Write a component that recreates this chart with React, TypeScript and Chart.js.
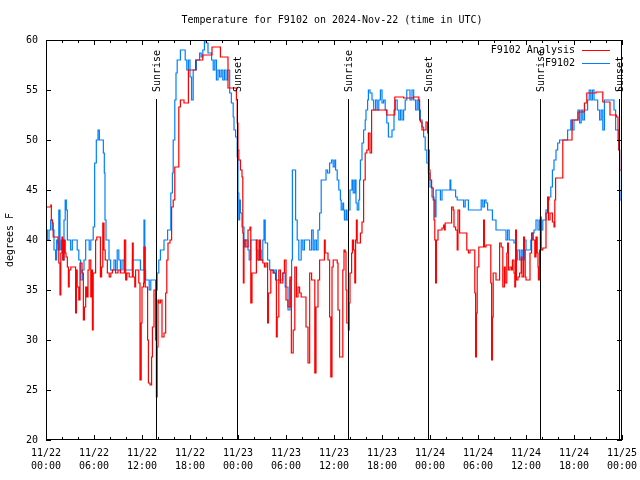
import React, { useEffect, useRef } from 'react';
import { Chart, registerables } from 'chart.js';

Chart.register(...registerables);

const FONT = '"DejaVu Sans Mono", "Liberation Mono", monospace';

const chartTitle = 'Temperature for F9102 on 2024-Nov-22 (time in UTC)';
const yAxisTitle = 'degrees F';
const seriesNames = ['F9102 Analysis', 'F9102'];
const seriesColors = ['#ff0000', '#0080ff'];

// x ticks every 6 hours from 11/22 00:00 (hours since start)
const tickDays = ['11/22', '11/22', '11/22', '11/22', '11/23', '11/23', '11/23', '11/23', '11/24', '11/24', '11/24', '11/24', '11/25'];
const tickTimes = ['00:00', '06:00', '12:00', '18:00', '00:00', '06:00', '12:00', '18:00', '00:00', '06:00', '12:00', '18:00', '00:00'];

const sunHours = [13.8, 23.83, 37.75, 47.8, 61.8, 71.67];
const sunLabels = ['Sunrise', 'Sunset', 'Sunrise', 'Sunset', 'Sunrise', 'Sunset'];

// F9102 (station) observations
const blueHours = [
  0.0, 0.17, 0.375, 0.58, 0.79, 1.0, 1.2, 1.33, 1.5, 1.6, 1.75, 1.92, 2.1, 2.25, 2.4, 2.54, 2.67, 3.08, 3.29, 3.9,
  4.1, 4.33, 4.54, 4.75, 4.96, 5.4, 5.6, 5.9, 6.08, 6.29, 6.5, 6.67, 7.17, 7.29, 7.375, 7.5, 7.875, 8.08, 8.5, 8.7,
  8.9, 9.1, 9.3, 9.5, 9.75, 10.8, 11.8, 12.25, 12.35, 12.46, 12.9, 13.1, 13.7, 13.9, 14.1, 14.3, 14.75, 15.2, 15.6, 15.8,
  15.9, 16.1, 16.25, 16.4, 16.8, 17.4, 17.6, 17.8, 18.0, 18.2, 18.4, 18.8, 19.2, 19.4, 19.6, 19.8, 20.0, 20.25, 20.7, 20.9,
  21.1, 21.3, 21.5, 21.7, 21.9, 22.1, 22.3, 22.5, 22.7, 22.96, 23.17, 23.4, 23.5, 23.7, 23.9, 24.0, 24.1, 24.2, 24.3, 24.5,
  24.75, 24.9, 25.25, 25.4, 25.6, 26.3, 26.5, 26.7, 26.9, 27.1, 27.25, 27.4, 27.7, 27.96, 28.4, 28.6, 28.8, 29.6, 29.9, 30.25,
  30.5, 30.7, 30.8, 31.0, 31.2, 31.4, 31.6, 31.9, 32.1, 32.3, 32.96, 33.2, 33.4, 33.6, 33.8, 34.0, 34.2, 34.4, 35.0, 35.2,
  35.45, 35.7, 35.9, 36.1, 36.2, 36.4, 36.6, 36.8, 36.9, 37.1, 37.2, 37.3, 37.5, 37.6, 37.8, 38.0, 38.25, 38.4, 38.6, 38.75,
  38.9, 39.1, 39.2, 39.3, 39.5, 39.7, 39.9, 40.0, 40.2, 40.3, 40.5, 40.75, 40.96, 41.2, 41.4, 41.6, 41.8, 42.0, 42.2, 42.4,
  42.6, 42.8, 43.25, 43.5, 43.67, 43.9, 44.1, 44.3, 44.5, 44.7, 44.9, 45.1, 45.5, 45.75, 45.96, 46.2, 46.4, 46.6, 46.8, 47.0,
  47.2, 47.4, 47.6, 47.8, 48.0, 48.25, 48.5, 48.6, 48.75, 49.3, 49.5, 50.5, 50.6, 51.2, 51.4, 52.2, 52.4, 52.8, 54.4, 54.6,
  54.8, 55.0, 55.2, 55.8, 56.25, 57.5, 57.7, 57.9, 58.5, 58.75, 58.96, 59.2, 59.4, 59.6, 59.8, 60.0, 60.6, 60.8, 61.0, 61.25,
  61.5, 61.7, 61.9, 62.1, 62.5, 62.7, 62.9, 63.1, 63.3, 63.5, 63.75, 63.96, 64.2, 65.2, 65.6, 65.8, 66.0, 66.5, 66.7, 66.9,
  67.1, 67.3, 67.7, 67.9, 68.1, 68.3, 68.5, 68.96, 69.2, 69.4, 69.6, 69.8, 71.0, 71.2, 71.5, 71.6, 71.7, 71.75, 72.0
];
const blueTemps = [
  41, 40, 41, 42, 41, 39, 38, 40, 39, 43, 39, 40, 38, 42, 44, 43, 40, 39, 40, 39,
  38, 36, 37, 38, 40, 39, 40, 41.3, 47.7, 50, 51, 50, 48.7, 46.7, 42, 40, 38, 37, 38, 37,
  39, 38, 37, 38, 37, 38, 37, 42, 37, 36, 35, 36, 35, 36.7, 38, 39, 40, 41, 44.7, 46.7,
  50, 54, 56.7, 58, 59, 58, 57, 58, 56.3, 54, 57, 58, 58.7, 58.3, 59, 60, 59.7, 58.7, 58, 57,
  58, 56, 57, 56.3, 57, 56, 57, 56, 57, 54.7, 53.7, 52.3, 51, 50.3, 48.3, 44.7, 42, 44, 42.7, 41.3,
  39.3, 40, 39, 38, 40, 39, 38, 39, 38, 40, 42, 39.7, 38, 37, 36.7, 37, 36, 36.7, 35.3, 33,
  36, 38, 47, 47, 42, 40, 38, 40, 39, 40, 39, 41, 39, 40, 39, 41, 42.7, 46, 47, 46.7,
  47.7, 48, 47.3, 48, 47, 46, 45, 44, 43, 43.7, 43, 42, 43, 42, 43, 45, 46, 44.7, 46, 43.7,
  43, 44, 46, 48, 49.7, 51, 52, 53, 54, 55, 54.7, 54, 53, 54, 53, 54, 55, 53.7, 54, 53,
  51.7, 50.3, 51, 53, 54, 53, 52, 53, 52, 53, 54, 55, 54, 55, 54, 53, 54, 53, 52, 51.3,
  50.3, 49, 47.7, 46.7, 45.3, 44.3, 44, 42.3, 45, 44, 45, 46, 45, 44.3, 44, 43.3, 44, 43, 44, 43.3,
  44, 43.7, 43, 42, 41, 40, 41, 40, 39.7, 38, 39, 38, 39, 38, 40, 39, 40, 40.7, 41, 42,
  41, 42, 41, 42, 43, 44, 44.3, 45.3, 47, 48, 49, 49.7, 50, 51, 52, 51, 52, 53, 51.7, 53,
  52, 53, 54, 55, 54, 55, 54, 53, 52, 53, 51, 54, 53, 51, 50, 49, 45, 44, 44.5
];

// F9102 Analysis
const redHours = [
  0, 0.6, 0.67, 0.8, 0.9, 1.5, 1.6, 1.75, 1.85, 2.0, 2.1, 2.25, 2.4, 2.5, 2.67, 2.8, 2.9, 3.1, 3.7, 3.8,
  3.9, 4.1, 4.25, 4.5, 4.67, 4.8, 4.96, 5.1, 5.25, 5.4, 5.6, 5.7, 5.8, 5.9, 6.2, 6.35, 6.8, 6.95, 7.1, 7.25,
  7.4, 7.67, 7.9, 8.1, 8.3, 8.7, 9.0, 9.3, 9.8, 9.96, 10.1, 10.4, 10.8, 10.9, 11.1, 11.2, 11.6, 11.75, 11.9, 12.0,
  12.2, 12.25, 12.4, 12.7, 12.8, 13.0, 13.2, 13.3, 13.5, 13.7, 13.8, 13.9, 14.0, 14.1, 14.3, 14.5, 14.75, 14.96, 15.1, 15.25,
  15.5, 15.7, 15.9, 16.1, 16.6, 16.8, 17.25, 17.8, 18.7, 19.6, 20.75, 21.8, 22.75, 23.8, 23.9, 24.0, 24.1, 24.3, 24.5, 24.6,
  24.67, 24.75, 25.0, 25.25, 25.5, 25.6, 25.75, 26.3, 26.5, 26.7, 26.8, 27.1, 27.3, 27.5, 27.7, 27.8, 28.1, 28.4, 28.7, 28.8,
  28.9, 29.1, 29.3, 29.6, 29.8, 30.0, 30.25, 30.5, 30.67, 30.9, 31.1, 31.3, 31.5, 31.7, 31.9, 32.5, 32.75, 32.96, 33.2, 33.6,
  33.75, 34.0, 34.2, 34.8, 34.9, 35.25, 35.45, 35.6, 35.75, 35.9, 36.4, 36.5, 36.7, 37.0, 37.1, 37.25, 37.4, 37.5, 37.6, 37.8,
  37.9, 38.0, 38.2, 38.3, 38.45, 38.6, 38.7, 38.8, 38.9, 39.3, 39.5, 39.7, 39.9, 40.1, 40.3, 40.5, 40.7, 42.6, 43.6, 44.7,
  45.96, 46.6, 46.7, 46.8, 47.0, 47.5, 47.7, 47.8, 47.9, 48.0, 48.2, 48.4, 48.5, 48.6, 48.7, 48.8, 49.0, 49.5, 49.7, 49.8,
  49.9, 50.7, 50.9, 51.0, 51.2, 51.4, 51.5, 51.7, 52.6, 52.8, 53.0, 53.6, 53.7, 53.8, 53.9, 54.1, 54.7, 54.8, 55.0, 55.6,
  55.7, 55.8, 55.9, 56.25, 56.7, 56.9, 57.1, 57.3, 57.4, 57.6, 57.7, 57.8, 58.0, 58.2, 58.3, 58.5, 58.6, 58.7, 58.8, 59.0,
  59.2, 59.4, 59.5, 59.7, 59.8, 59.9, 60.0, 60.5, 60.7, 60.9, 61.1, 61.25, 61.4, 61.5, 61.55, 61.7, 61.8, 61.9, 62.1, 62.5,
  62.7, 62.8, 63.0, 63.3, 63.5, 63.6, 63.7, 64.6, 65.75, 66.5, 67.3, 67.6, 68.75, 69.6, 70.5, 71.3, 71.5, 71.6, 71.7, 72.0
];
const redTemps = [
  43.3, 43.5, 42, 41.7, 40.3, 39.7, 37.7, 34.5, 38.7, 40.3, 38, 40, 38.7, 38.3, 37.3, 35.3, 37, 37.3, 32.7, 37,
  35.3, 34, 37.7, 36.7, 32, 33.3, 35.3, 34.3, 37, 38, 34.3, 37, 31, 36.7, 40, 40.3, 36.3, 37.3, 41.7, 39,
  38, 36.7, 36.3, 36.7, 37, 36.7, 37, 36.7, 40, 36, 36.7, 36.3, 39.7, 36.3, 35.3, 37, 35.7, 26, 31.7, 35.3,
  35.7, 39.3, 35.3, 30, 25.7, 25.5, 28.3, 31.3, 35, 30, 24.3, 29.3, 34, 33.7, 34, 30.3, 30.7, 34.7, 38, 39.7,
  40, 43.3, 44, 47.3, 53.3, 54, 53.7, 57, 58, 58.5, 59.3, 58.3, 55.2, 54, 51.7, 49, 48, 47, 46.3, 40.7,
  35.7, 40, 39.3, 41, 41.3, 33.7, 36.7, 40, 38, 40, 38, 37.7, 37.3, 37.7, 31.7, 34.7, 37, 36.7, 36, 30.3,
  32.3, 37, 35.7, 36.7, 38, 34, 33.3, 36.3, 28.7, 31, 37.3, 34.3, 35.3, 34.7, 34.3, 31.3, 27.7, 36.7, 36, 26.7,
  33.3, 36, 38, 40, 38.7, 38, 32.3, 26.3, 37.3, 38, 37.7, 33, 28.3, 28.3, 37, 39, 38.8, 35, 31.7, 31,
  33.7, 36.7, 38.7, 40, 39, 35.7, 40, 42, 39.7, 40.7, 41.8, 46, 48.7, 49, 50.7, 48.7, 53, 52.5, 54.3, 54.2,
  54.3, 54, 52, 51.8, 51, 51.8, 50.7, 49, 47, 46, 45.2, 44, 42, 40, 35.7, 40, 41, 41.2, 41.5, 41,
  41.7, 43.3, 43, 41.3, 41, 39, 43, 40.7, 39, 38.7, 39, 34.7, 28.3, 32.7, 37.3, 39.3, 42, 39.3, 39.5, 35.7,
  28, 32.3, 36.7, 36, 39.7, 39.3, 35.3, 37.3, 35.7, 38.7, 39.7, 37, 37.3, 37, 38, 36.7, 35.3, 41, 36, 36.3,
  36.7, 38.3, 36.3, 40.3, 39, 36.3, 36, 38.7, 40.7, 40, 38.3, 40.3, 38.7, 37.3, 36, 39, 42.3, 39, 39.2, 42.7,
  44.3, 42, 42.7, 41.8, 41.3, 44, 46.2, 50, 52, 52.8, 53.7, 54.7, 54.8, 53.8, 52.5, 52.3, 51, 49, 47, 47
];

const gnuplotPlugin = {
  id: 'gnuplotDecor',
  afterDatasetsDraw(chart: any) {
    const { ctx, chartArea: a, scales } = chart;
    const x = scales.x;
    const y = scales.y;
    ctx.save();
    ctx.strokeStyle = '#000';
    ctx.fillStyle = '#000';
    ctx.lineWidth = 1;
    ctx.font = '10px ' + FONT;

    // sunrise / sunset markers
    const lineTop = a.top + a.height * 0.1475;
    const textBottom = a.top + a.height * 0.13;
    sunHours.forEach((h, i) => {
      const px = Math.round(x.getPixelForValue(h)) + 0.5;
      ctx.beginPath();
      ctx.moveTo(px, lineTop);
      ctx.lineTo(px, a.bottom);
      ctx.stroke();
      ctx.save();
      ctx.translate(px + 1, textBottom);
      ctx.rotate(-Math.PI / 2);
      ctx.textAlign = 'left';
      ctx.textBaseline = 'middle';
      ctx.fillText(sunLabels[i], 0, 0);
      ctx.restore();
    });

    // border
    ctx.strokeRect(a.left + 0.5, a.top + 0.5, a.width - 1, a.height - 1);

    // x tick marks (mirrored), every 2h, major every 6h
    for (let h = 0; h <= 72; h += 2) {
      const px = Math.round(x.getPixelForValue(h)) + 0.5;
      const len = h % 6 === 0 ? 5 : 3;
      ctx.beginPath();
      ctx.moveTo(px, a.bottom);
      ctx.lineTo(px, a.bottom - len);
      ctx.moveTo(px, a.top);
      ctx.lineTo(px, a.top + len);
      ctx.stroke();
    }
    // y tick marks (mirrored)
    for (let v = 20; v <= 60; v += 5) {
      const py = Math.round(y.getPixelForValue(v)) + 0.5;
      ctx.beginPath();
      ctx.moveTo(a.left, py);
      ctx.lineTo(a.left + 5, py);
      ctx.moveTo(a.right, py);
      ctx.lineTo(a.right - 5, py);
      ctx.stroke();
    }

    // legend (inside, top right)
    ctx.textAlign = 'right';
    ctx.textBaseline = 'middle';
    seriesNames.forEach((name, i) => {
      const ty = a.top + 10 + i * 13;
      ctx.fillStyle = '#000';
      ctx.fillText(name, a.right - 47, ty);
      ctx.strokeStyle = seriesColors[i];
      ctx.beginPath();
      ctx.moveTo(a.right - 40, Math.round(ty) + 0.5);
      ctx.lineTo(a.right - 12, Math.round(ty) + 0.5);
      ctx.stroke();
    });

    // title
    ctx.fillStyle = '#000';
    ctx.textAlign = 'center';
    ctx.fillText(chartTitle, 332, 20);
    ctx.restore();
  },
};

export default function App() {
  const ref = useRef<HTMLCanvasElement>(null);

  useEffect(() => {
    document.body.style.margin = '0';
    const canvas = ref.current;
    if (!canvas) return;
    const chart = new Chart(canvas, {
      type: 'line',
      data: {
        datasets: [
          {
            label: seriesNames[0],
            data: redHours.map((h, i) => ({ x: h, y: redTemps[i] })),
            borderColor: seriesColors[0],
            backgroundColor: seriesColors[0],
            borderWidth: 1.2,
            pointRadius: 0,
            stepped: true,
          },
          {
            label: seriesNames[1],
            data: blueHours.map((h, i) => ({ x: h, y: blueTemps[i] })),
            borderColor: seriesColors[1],
            backgroundColor: seriesColors[1],
            borderWidth: 1.2,
            pointRadius: 0,
            stepped: true,
          },
        ],
      },
      options: {
        animation: false,
        responsive: false,
        devicePixelRatio: 1,
        layout: { padding: { top: 40, right: 18, left: 0, bottom: 0 } },
        plugins: {
          legend: { display: false },
          tooltip: { enabled: false },
          title: { display: false },
        },
        scales: {
          x: {
            type: 'linear',
            min: 0,
            max: 72,
            grid: { display: false, drawTicks: false },
            border: { display: false },
            ticks: {
              stepSize: 6,
              autoSkip: false,
              maxRotation: 0,
              padding: 7,
              color: '#000',
              font: { family: FONT, size: 10, lineHeight: 1.3 },
              callback: (v: any) => {
                const i = Math.round(Number(v) / 6);
                return [tickDays[i], tickTimes[i]];
              },
            },
            afterFit: (s: any) => {
              s.height = 40;
              s.paddingLeft = 0;
              s.paddingRight = 0;
            },
          },
          y: {
            min: 20,
            max: 60,
            grid: { display: false, drawTicks: false },
            border: { display: false },
            ticks: {
              stepSize: 5,
              padding: 8,
              color: '#000',
              font: { family: FONT, size: 10 },
            },
            title: {
              display: true,
              text: yAxisTitle,
              color: '#000',
              font: { family: FONT, size: 10 },
              padding: { top: 4, bottom: 0 },
            },
            afterFit: (s: any) => {
              s.width = 46;
              s.paddingTop = 0;
              s.paddingBottom = 0;
            },
          },
        },
      },
      plugins: [gnuplotPlugin],
    });
    return () => chart.destroy();
  }, []);

  return (
    <div style={{ position: 'fixed', left: 0, top: 0, width: 640, height: 480, background: '#fff' }}>
      <canvas ref={ref} width={640} height={480} style={{ width: 640, height: 480 }} />
    </div>
  );
}
